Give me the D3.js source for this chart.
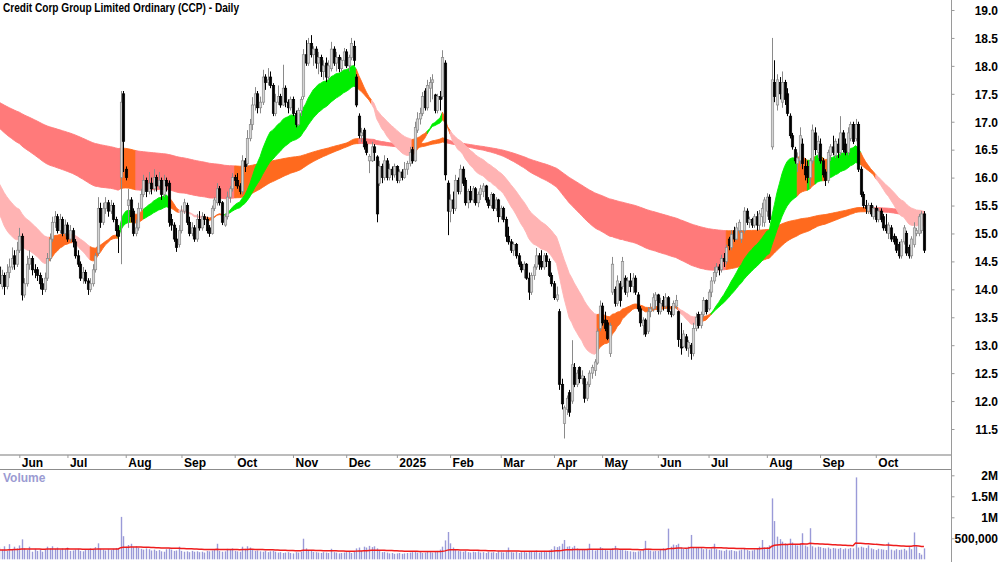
<!DOCTYPE html>
<html><head><meta charset="utf-8">
<script src="https://cdn.jsdelivr.net/npm/d3@7"></script>
<style>
body{margin:0;background:#fff;}
svg{display:block;}
text{font-family:"Liberation Sans Narrow","Arial Narrow","Liberation Sans",Arial,sans-serif;font-weight:bold;}
</style></head><body>
<svg id="c" width="1000" height="562"></svg>
<script>
// ---- DATA ----
const title = "Credit Corp Group Limited Ordinary (CCP) - Daily";
// daily candles [open, high, low, close], 22 May 2024 .. 28 Oct 2025
const ohlc = [
[14.40,14.45,13.95,14.10],[14.05,14.35,14.00,14.25],[14.25,14.30,13.90,14.05],[14.05,14.45,14.00,14.30],[14.30,14.55,14.20,14.40],[14.40,14.75,14.35,14.55],[14.60,14.70,14.35,14.45],[14.45,14.85,14.40,14.70],[14.70,15.10,14.65,14.95],[14.95,15.00,13.80,13.90],
[13.90,14.20,13.85,14.10],[14.10,14.60,14.05,14.45],[14.45,14.70,14.35,14.55],[14.55,14.60,14.25,14.35],[14.35,14.45,14.20,14.30],[14.35,14.40,14.15,14.25],[14.25,14.30,14.00,14.10],[14.10,14.20,13.90,14.00],[14.00,14.30,13.95,14.20],[14.20,14.65,14.15,14.55],
[14.55,15.00,14.50,14.90],[14.90,15.30,14.85,15.20],[15.20,15.40,15.10,15.30],[15.30,15.35,15.00,15.05],[15.05,15.35,15.00,15.25],[15.25,15.30,14.95,15.00],[15.00,15.25,14.95,15.15],[15.15,15.20,14.85,14.90],[14.90,15.15,14.85,15.05],[15.05,15.10,14.75,14.85],
[14.85,14.90,14.55,14.60],[14.60,14.70,14.40,14.45],[14.45,14.50,14.15,14.20],[14.20,14.40,14.10,14.30],[14.30,14.35,14.10,14.15],[14.15,14.20,13.90,14.00],[14.00,14.20,13.95,14.10],[14.10,14.45,14.05,14.35],[14.35,14.65,14.30,14.60],[14.65,15.65,14.60,15.45],
[15.45,15.55,15.10,15.20],[15.20,15.55,15.15,15.45],[15.45,15.65,15.35,15.55],[15.55,15.60,15.30,15.40],[15.40,15.60,15.35,15.50],[15.50,15.55,15.20,15.25],[15.25,15.30,14.95,15.05],[15.05,15.15,14.65,14.95],[16.00,17.55,14.45,17.35],[17.50,17.55,16.10,16.65],
[16.15,16.20,15.95,16.00],[15.50,15.80,15.10,15.60],[15.60,15.65,15.20,15.30],[15.40,15.45,14.95,15.00],[15.00,15.25,14.95,15.10],[15.10,15.55,15.05,15.45],[15.45,15.80,15.40,15.70],[15.70,16.05,15.65,15.95],[15.95,16.00,15.65,15.75],[15.75,16.10,15.70,15.90],
[15.90,16.00,15.70,15.80],[15.80,16.15,15.75,16.00],[16.00,16.05,15.75,15.85],[15.85,16.10,15.80,15.95],[15.95,16.00,15.60,15.70],[15.70,16.05,15.65,15.95],[15.95,16.00,15.75,15.85],[15.90,15.95,15.12,15.20],[15.25,15.35,15.05,15.15],[15.15,15.20,14.85,14.90],
[14.90,15.10,14.67,14.75],[14.80,15.15,14.75,15.05],[15.05,15.50,15.00,15.40],[15.40,15.62,15.35,15.55],[15.50,15.55,15.15,15.20],[15.20,15.30,14.95,15.00],[15.00,15.20,14.95,15.10],[15.10,15.15,14.85,14.90],[14.90,15.35,14.85,15.25],[15.25,15.40,15.05,15.10],
[15.10,15.38,15.05,15.30],[15.30,15.35,15.15,15.25],[15.25,15.30,15.00,15.05],[15.10,15.15,14.94,15.00],[15.00,15.50,14.98,15.45],[15.45,15.65,15.40,15.60],[15.55,15.90,15.50,15.80],[15.80,15.85,15.50,15.55],[15.55,15.58,15.15,15.20],[15.15,15.35,15.12,15.30],
[15.30,15.75,15.25,15.65],[15.65,15.85,15.55,15.80],[15.80,16.08,15.75,16.00],[16.00,16.05,15.85,15.95],[15.95,16.08,15.80,15.85],[15.85,15.90,15.70,15.75],[15.75,16.40,15.70,16.30],[16.30,16.35,16.10,16.20],[16.25,16.85,16.20,16.70],[16.70,17.05,16.65,16.95],
[16.95,17.44,16.85,17.30],[17.30,17.62,17.20,17.50],[17.50,17.55,17.15,17.25],[17.25,17.45,17.15,17.35],[17.35,17.93,17.30,17.80],[17.80,17.85,17.57,17.70],[17.70,17.96,17.65,17.75],[17.80,17.90,17.60,17.65],[17.65,17.69,17.10,17.15],[17.15,17.50,17.10,17.35],
[17.35,17.65,17.30,17.45],[17.45,17.50,17.25,17.30],[17.30,18.02,17.28,17.60],[17.60,17.65,17.26,17.35],[17.35,17.40,17.15,17.25],[17.25,17.45,17.20,17.40],[17.40,17.45,17.10,17.15],[17.15,17.20,16.90,16.95],[16.95,17.25,16.92,17.20],[17.20,17.45,17.10,17.40],
[17.45,18.30,17.40,18.20],[18.20,18.46,18.00,18.05],[18.05,18.50,18.00,18.40],[18.40,18.55,18.15,18.20],[18.20,18.35,18.00,18.30],[18.30,18.35,17.95,18.05],[18.05,18.25,17.85,18.15],[18.15,18.20,17.80,17.90],[17.90,18.10,17.75,18.00],[18.05,18.15,17.71,17.80],
[17.80,18.10,17.75,18.00],[17.95,18.43,17.90,18.30],[18.30,18.35,18.00,18.05],[18.05,18.25,17.90,18.15],[18.15,18.20,17.89,17.95],[17.95,18.15,17.90,18.10],[18.10,18.32,18.00,18.25],[18.25,18.30,17.96,18.00],[18.00,18.20,17.90,18.15],[18.15,18.50,18.10,18.40],
[18.35,18.45,18.00,18.10],[17.80,17.85,17.26,17.30],[17.10,17.15,16.70,16.75],[16.75,16.89,16.64,16.80],[16.85,16.89,16.50,16.55],[16.60,16.65,16.40,16.45],[16.30,16.42,16.08,16.38],[16.30,16.64,16.28,16.55],[16.55,16.60,16.30,16.45],[16.37,16.40,15.20,15.35],
[15.90,16.30,15.85,16.20],[16.20,16.25,15.90,16.00],[16.00,16.40,15.95,16.30],[16.30,16.35,15.95,16.00],[16.00,16.25,15.95,16.15],[16.15,16.20,15.95,16.05],[16.05,16.25,16.00,16.20],[16.20,16.22,15.90,15.95],[15.95,16.15,15.90,16.10],[16.10,16.15,15.95,16.00],
[16.00,16.28,15.98,16.15],[16.15,16.30,16.05,16.25],[16.25,16.55,16.20,16.45],[16.50,16.55,16.25,16.30],[16.30,17.00,16.28,16.90],[16.85,17.17,16.80,17.05],[17.05,17.25,16.95,17.15],[17.15,17.53,17.10,17.45],[17.55,17.60,17.20,17.25],[17.25,17.75,17.20,17.65],
[17.60,17.80,17.35,17.70],[17.70,17.85,17.40,17.75],[17.48,17.50,17.15,17.20],[17.20,17.50,17.15,17.45],[17.45,17.55,17.20,17.40],[17.45,18.28,17.40,18.15],[18.05,18.10,15.95,16.05],[15.90,15.95,14.97,15.40],[15.40,15.70,15.20,15.60],[15.60,15.75,15.35,15.45],
[15.45,16.05,15.40,15.95],[15.95,16.00,15.70,15.75],[15.75,16.23,15.70,16.15],[16.15,16.20,15.85,15.90],[15.95,16.00,15.50,15.55],[15.55,15.80,15.45,15.75],[15.75,15.85,15.55,15.60],[15.60,15.85,15.55,15.80],[15.80,15.83,15.50,15.55],[15.55,15.75,15.47,15.70],
[15.70,15.87,15.60,15.80],[15.75,15.90,15.65,15.85],[15.85,15.87,15.55,15.60],[15.60,15.65,15.45,15.50],[15.50,15.74,15.45,15.70],[15.70,15.72,15.40,15.45],[15.45,15.65,15.40,15.60],[15.60,15.62,15.20,15.30],[15.30,15.50,15.25,15.45],[15.45,15.48,15.20,15.25],
[15.25,15.30,14.85,14.95],[14.95,15.12,14.80,14.85],[14.85,14.90,14.65,14.70],[14.70,14.85,14.60,14.80],[14.80,14.83,14.55,14.60],[14.60,14.65,14.40,14.45],[14.45,14.50,14.30,14.35],[14.35,14.50,14.20,14.45],[14.45,14.47,14.17,14.20],[14.20,14.30,13.81,13.95],
[13.95,14.30,13.90,14.25],[14.25,14.45,14.17,14.40],[14.40,14.74,14.35,14.60],[14.60,14.65,14.35,14.45],[14.50,14.70,14.35,14.40],[14.40,14.65,14.35,14.60],[14.60,14.65,14.40,14.50],[14.50,14.55,14.22,14.25],[14.25,14.30,14.05,14.10],[14.10,14.15,13.81,13.85],
[13.82,14.05,13.78,13.90],[13.60,13.65,12.20,12.30],[12.30,12.40,11.85,11.95],[11.60,11.92,11.33,11.88],[11.85,12.10,11.75,12.05],[12.15,12.20,11.72,11.80],[12.00,13.09,11.95,12.65],[12.60,12.68,12.25,12.30],[12.30,12.56,12.25,12.50],[12.60,12.62,12.32,12.40],
[12.40,12.55,12.30,12.45],[12.40,12.45,11.97,12.05],[12.05,12.35,12.00,12.30],[12.30,12.55,12.25,12.50],[12.50,12.65,12.40,12.60],[12.55,12.75,12.45,12.70],[12.68,13.30,12.65,13.25],[13.30,13.80,13.25,13.70],[13.70,13.76,13.35,13.40],[13.45,13.60,13.25,13.30],
[13.40,13.45,13.09,13.12],[12.85,13.40,12.79,13.35],[13.95,14.58,13.90,14.45],[14.00,14.05,13.69,13.75],[13.75,14.25,13.70,14.15],[14.10,14.15,13.69,13.80],[14.05,14.58,14.00,14.50],[14.20,14.25,13.90,13.95],[13.95,14.22,13.86,14.15],[14.15,14.29,13.95,14.05],
[14.05,14.29,13.93,14.20],[14.20,14.25,13.90,13.95],[13.90,13.95,13.60,13.65],[13.65,13.70,13.33,13.40],[13.35,13.50,13.18,13.45],[13.45,13.48,13.15,13.20],[13.25,13.68,13.20,13.60],[13.60,13.75,13.50,13.65],[13.65,13.93,13.60,13.85],[13.80,13.95,13.65,13.90],
[13.90,13.92,13.55,13.60],[13.60,13.85,13.55,13.75],[13.80,13.88,13.62,13.70],[13.70,13.93,13.65,13.85],[13.85,13.88,13.55,13.60],[13.60,13.70,13.50,13.55],[13.55,13.80,13.52,13.75],[13.70,13.90,13.65,13.80],[13.60,13.62,12.97,13.10],[13.10,13.40,12.83,12.95],
[12.98,13.27,12.95,13.20],[13.15,13.20,12.90,12.95],[12.95,13.09,12.79,13.05],[13.00,13.04,12.74,12.85],[12.85,13.40,12.80,13.30],[13.30,13.58,13.25,13.50],[13.55,13.60,13.30,13.35],[13.35,13.60,13.30,13.55],[13.55,13.86,13.50,13.80],[13.80,13.82,13.55,13.60],
[13.65,14.00,13.62,13.95],[13.95,14.22,13.86,14.15],[14.15,14.40,14.10,14.30],[14.30,14.47,14.22,14.40],[14.40,14.45,14.25,14.35],[14.35,14.62,14.30,14.55],[14.55,14.65,14.40,14.50],[14.50,14.80,14.45,14.75],[14.90,14.94,14.70,14.78],[14.75,15.06,14.70,14.98],
[15.05,15.12,14.85,14.90],[14.90,15.19,14.88,15.10],[15.05,15.25,15.00,15.20],[14.90,15.06,14.83,15.02],[15.05,15.47,15.00,15.40],[15.40,15.45,15.15,15.20],[15.20,15.30,15.10,15.25],[15.25,15.28,15.10,15.15],[15.15,15.35,15.10,15.30],[15.30,15.40,15.05,15.15],
[15.15,15.42,15.06,15.35],[15.30,15.55,15.12,15.45],[15.20,15.65,15.12,15.60],[15.40,15.72,15.30,15.65],[15.65,15.70,15.19,15.25],[16.55,18.50,16.50,17.75],[17.70,18.10,17.35,17.45],[17.30,17.85,17.20,17.75],[17.70,17.80,17.40,17.50],[17.35,17.90,17.25,17.70],
[17.70,17.75,17.30,17.40],[17.50,17.60,17.10,17.15],[17.10,17.15,16.70,16.75],[16.75,16.80,16.50,16.55],[16.50,16.55,16.25,16.30],[16.25,16.45,16.10,16.35],[16.30,16.90,16.20,16.75],[16.60,16.70,16.15,16.25],[16.20,16.35,15.95,16.05],[16.20,16.30,15.90,16.00],
[16.00,16.35,15.85,16.30],[16.30,16.95,16.25,16.85],[16.80,16.90,16.40,16.50],[16.45,16.75,16.35,16.65],[16.60,16.70,16.25,16.30],[16.30,16.35,16.00,16.05],[16.10,16.15,15.85,15.95],[15.95,16.50,15.90,16.45],[16.40,16.60,16.30,16.55],[16.55,16.75,16.40,16.45],
[16.40,16.70,16.35,16.65],[16.60,16.70,16.35,16.45],[16.45,17.10,16.40,16.80],[16.80,16.85,16.45,16.50],[16.60,16.70,16.40,16.45],[16.45,16.90,16.40,16.80],[16.70,17.00,16.65,16.95],[16.95,17.00,16.60,16.65],[16.70,17.05,16.65,16.95],[16.95,17.00,16.10,16.15],
[16.15,16.20,15.65,15.70],[15.70,15.75,15.45,15.50],[15.50,15.60,15.35,15.45],[15.40,15.55,15.35,15.50],[15.50,15.55,15.30,15.35],[15.30,15.50,15.25,15.45],[15.45,15.50,15.20,15.25],[15.25,15.45,15.20,15.40],[15.40,15.45,15.20,15.25],[15.30,15.35,15.05,15.10],
[15.15,15.35,15.00,15.05],[15.00,15.20,14.90,15.15],[15.10,15.15,14.85,14.90],[14.95,15.00,14.80,14.85],[14.90,14.95,14.65,14.70],[14.80,14.85,14.55,14.60],[14.60,14.90,14.55,14.85],[14.85,15.15,14.80,15.10],[15.00,15.05,14.60,14.65],[14.75,14.80,14.55,14.60],
[14.60,14.95,14.55,14.90],[14.80,15.20,14.75,15.10],[15.00,15.10,14.95,15.05],[15.00,15.35,14.95,15.30],[15.05,15.40,15.00,15.35],[15.35,15.40,14.65,14.70]
];
// daily volume, thousands of shares
const volumes = [
280,230,310,200,360,240,300,260,330,475, 260,220,300,180,250,200,230,180,240,300,
260,310,250,280,230,260,240,280,200,210, 230,250,200,190,220,240,260,230,290,380,
250,230,210,240,220,250,270,260,1010,550, 300,340,370,290,310,270,250,230,260,240,
210,230,200,220,190,180,240,260,230,200, 210,300,200,180,190,170,200,180,190,170,
180,160,200,190,210,230,370,200,180,190, 250,240,260,200,190,180,300,250,310,280,
230,200,210,190,180,200,170,190,200,180, 160,170,150,160,170,150,140,170,160,180,
490,260,220,200,180,170,160,150,170,160, 150,250,170,160,140,150,160,170,180,150,
190,260,280,200,300,280,320,290,310,260, 200,170,180,160,140,150,130,140,150,130,
140,150,160,170,180,160,170,150,160,180, 170,160,180,200,230,300,450,650,380,280,
220,200,190,180,200,170,160,180,170,190, 160,170,150,180,160,170,150,190,170,160,
180,280,170,160,180,150,170,190,160,200, 190,170,210,160,180,200,170,210,240,310,
290,310,370,460,300,310,280,320,260,240, 230,220,250,370,230,210,240,290,260,230,
210,230,260,320,240,220,230,210,200,190, 180,170,190,200,230,440,250,210,190,200,
200,220,260,250,730,300,350,340,370,280, 250,260,300,580,290,270,280,290,240,250,
230,260,370,240,220,210,200,230,210,220, 200,190,210,230,250,220,200,210,230,250,
300,460,280,290,330,1450,910,540,480,420, 380,360,490,400,350,330,380,620,330,300,
740,310,280,300,290,270,260,280,250,270, 260,250,270,240,260,250,270,260,1950,280,
300,280,270,330,260,240,220,250,240,230, 220,400,230,210,240,220,230,250,210,290,
240,640,310,150,110,260
];
const monthLabels = ["Jun","Jul","Aug","Sep","Oct","Nov","Dec","2025","Feb","Mar","Apr","May","Jun","Jul","Aug","Sep","Oct"];
const monthStarts = [8,27,50,72,93,116,137,157,178,198,219,238,260,280,303,324,346];
const priceTicks = [11.5,12,12.5,13,13.5,14,14.5,15,15.5,16,16.5,17,17.5,18,18.5,19];
const volTicks = [500000,1000000,1500000,2000000];
const volTickLabels = ["500,000","1M","1.5M","2M"];
// multiple moving averages (EMA periods) and their values on the first day
const shortPeriods = [20,24,28,32,36,40];
const shortSeeds = [15.36,15.47,15.58,15.69,15.80,15.90];
const longPeriods = [130,150,175,200,225,250];
const longSeeds = [16.89,16.98,17.08,17.17,17.26,17.35];
const volMaPeriod = 50, volMaSeed = 220;
// ribbon state from index: g = rising, p = falling, o = mixed ; r = falling
const shortStates = [[0,'p'],[20,'o'],[29,'p'],[36,'o'],[47,'g'],[52,'o'],[57,'g'],[67,'o'],[71,'p'],[82,'o'],[88,'g'],[141,'o'],[147,'p'],[163,'o'],[169,'g'],[175,'o'],[178,'p'],[236,'o'],[268,'p'],[277,'o'],[281,'g'],[315,'o'],[319,'g'],[320,'o'],[322,'g'],[325,'o'],[327,'g'],[340,'o'],[346,'p']];
const longStates = [[0,'r'],[48,'o'],[54,'r'],[93,'o'],[142,'r'],[160,'o'],[177,'r'],[287,'o'],[345,'r']];

// ---- DRAW ----
const n = ohlc.length;
console.log("candles", n, "volumes", volumes.length);
const svg = d3.select("#c");
const AX = 951.5;
const x = d3.scaleLinear().domain([0, 365]).range([-0.97, 923.94]);
const y = d3.scaleLinear().domain([11.5, 19]).range([429, 10]);
const yv = d3.scaleLinear().domain([0, 2000000]).range([559.3, 475.3]);

const defs = svg.append("defs");
defs.append("clipPath").attr("id","cp").append("rect").attr("x",0).attr("y",0).attr("width",AX).attr("height",454);
defs.append("clipPath").attr("id","cv").append("rect").attr("x",0).attr("y",470).attr("width",AX).attr("height",92);

const closes = ohlc.map(d=>d[3]);
function ema(vals, p, seed){ const a=2/(p+1); let e=seed; return vals.map((v,i)=>{ if(i>0) e=e+a*(v-e); return e; }); }
const sE = shortPeriods.map((p,k)=>ema(closes,p,shortSeeds[k]));
const lE = longPeriods.map((p,k)=>ema(closes,p,longSeeds[k]));
const sLo = closes.map((_,i)=>d3.min(sE,e=>e[i])), sHi = closes.map((_,i)=>d3.max(sE,e=>e[i]));
const lLo = closes.map((_,i)=>d3.min(lE,e=>e[i])), lHi = closes.map((_,i)=>d3.max(lE,e=>e[i]));

const colors = {g:"#00ee00", p:"#ffb3b3", o:"#ff6a1e", r:"#ff7a7a"};
const pg = svg.append("g").attr("clip-path","url(#cp)");
function band(lo, hi, states){
  states.forEach((s,j)=>{
    const st = s[0], en = j<states.length-1 ? states[j+1][0] : n-1;
    const idx = d3.range(st, en+1);
    pg.append("path").datum(idx)
      .attr("d", d3.area().x(i=>x(i)).y0(i=>y(lo[i])).y1(i=>y(hi[i])))
      .attr("fill", colors[s[1]]).attr("stroke", colors[s[1]]).attr("stroke-width", 0.9);
  });
}
band(lLo, lHi, longStates);
band(sLo, sHi, shortStates);

// candles
const cg = pg.append("g");
ohlc.forEach((d,i)=>{
  const [o,h,l,c] = d; const up = c >= o; const cx = Math.round(x(i)) + 0.5;
  cg.append("line").attr("x1",cx).attr("x2",cx).attr("y1",y(h)).attr("y2",y(l))
    .attr("stroke", up ? "#8a8a8a" : "#000").attr("stroke-width",1);
  const top = y(Math.max(o,c)), bot = y(Math.min(o,c));
  cg.append("rect").attr("x",cx-1.2).attr("width",2.4).attr("y",top).attr("height",Math.max(1,bot-top))
    .attr("fill", up ? "#d4d4d4" : "#000").attr("stroke", up ? "#8a8a8a" : "#000").attr("stroke-width",0.7);
});

// volume
const vg = svg.append("g").attr("clip-path","url(#cv)");
volumes.forEach((v,i)=>{
  const yy = yv(v*1000);
  vg.append("rect").attr("x", Math.round(x(i))-0.2).attr("width",1.4).attr("y",yy).attr("height",yv(0)-yy).attr("fill","#9a9ad8");
});
const vma = ema(volumes, volMaPeriod, volMaSeed);
vg.append("path").datum(vma).attr("d", d3.line().x((d,i)=>x(i)).y(d=>yv(d*1000)))
  .attr("fill","none").attr("stroke","#ee1c1c").attr("stroke-width",1.5);

// frame lines
svg.append("line").attr("x1",0).attr("x2",AX).attr("y1",455).attr("y2",455).attr("stroke","#a6a6a6").attr("stroke-width",1.6);
svg.append("line").attr("x1",0).attr("x2",AX).attr("y1",469.5).attr("y2",469.5).attr("stroke","#8c8c8c").attr("stroke-width",1);
svg.append("line").attr("x1",AX).attr("x2",AX).attr("y1",0).attr("y2",562).attr("stroke","#9a9a9a").attr("stroke-width",1);

// price axis
const pa = svg.append("g").attr("transform",`translate(${AX},0)`)
  .call(d3.axisRight(y).tickValues(priceTicks).tickSize(3).tickFormat(d3.format(".1f")));
pa.select(".domain").remove();
pa.selectAll("line").attr("stroke","#9a9a9a");
pa.selectAll("text").attr("x", 46.5).attr("text-anchor","end").attr("dy","0.36em").style("font-size","12px").attr("fill","#000");

// volume axis
const va = svg.append("g").attr("transform",`translate(${AX},0)`)
  .call(d3.axisRight(yv).tickValues(volTicks).tickSize(3).tickFormat((d,i)=>volTickLabels[i]));
va.select(".domain").remove();
va.selectAll("line").attr("stroke","#9a9a9a");
va.selectAll("text").attr("x", 46.5).attr("text-anchor","end").attr("dy","0.36em").style("font-size","12px").attr("fill","#000");

// month axis
const ma = svg.append("g").attr("transform","translate(0,455)")
  .call(d3.axisBottom(x).tickValues(monthStarts).tickSize(3).tickFormat((d,i)=>monthLabels[i]));
ma.select(".domain").remove();
ma.selectAll("line").attr("stroke","#9a9a9a");
ma.selectAll("text").attr("x",2).attr("y",11.7).attr("dy",null).attr("text-anchor","start").style("font-size","12px").attr("fill","#000");

// labels
svg.append("text").attr("x",3).attr("y",12).attr("textLength",236).attr("lengthAdjust","spacingAndGlyphs")
  .style("font-size","12.5px").attr("fill","#000").text(title);
svg.append("text").attr("x",3).attr("y",482).style("font-size","12px").attr("fill","#9b9bd2").text("Volume");
</script>
</body></html>
